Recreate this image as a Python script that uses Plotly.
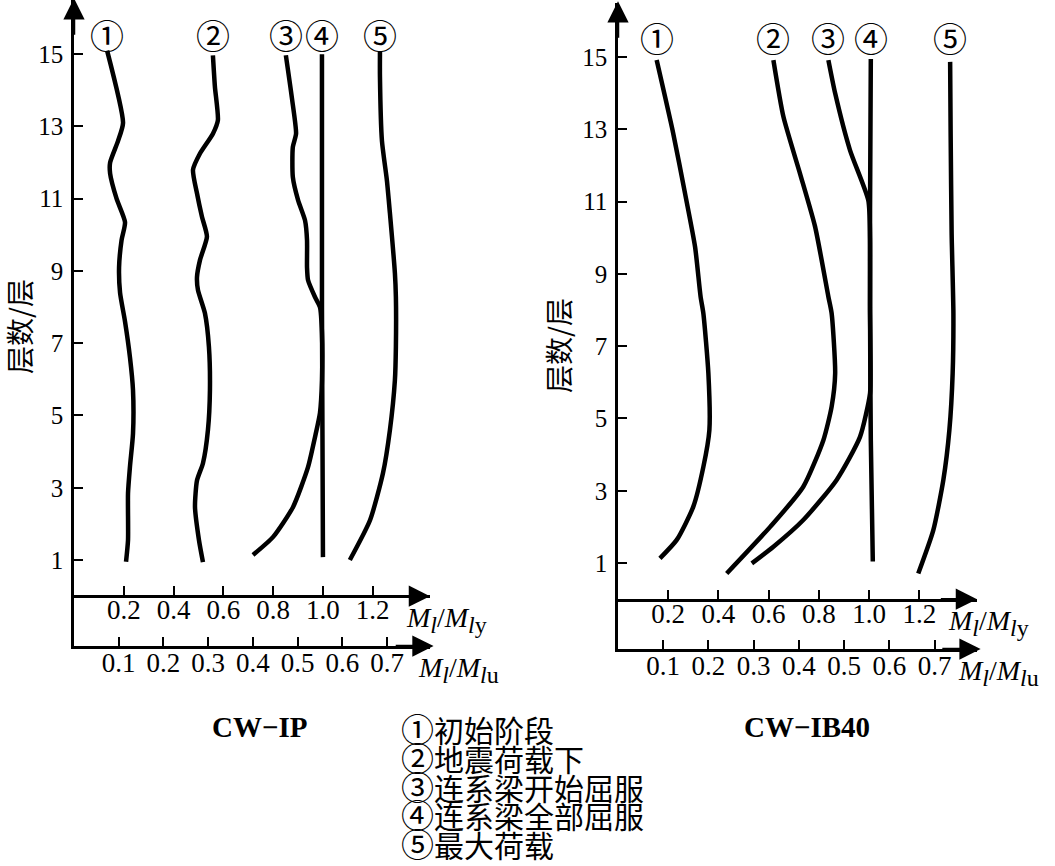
import plotly.graph_objects as go

W, H = 1055, 866

# ---------------- data ----------------
floor_ticks = [1, 3, 5, 7, 9, 11, 13, 15]
mly_ticks = [0.2, 0.4, 0.6, 0.8, 1.0, 1.2]
mlu_ticks = [0.1, 0.2, 0.3, 0.4, 0.5, 0.6, 0.7]
curve_labels = ["①", "②", "③", "④", "⑤"]
legend_texts = ["初始阶段", "地震荷载下", "连系梁开始屈服", "连系梁全部屈服", "最大荷载"]
panel_titles = ["CW−IP", "CW−IB40"]
y_title = "层数/层"

# CW-IP  (x = Ml/Mly, y = floor)
ip_c1_floor = [15.1, 13.1, 12.6, 12.0, 11.7, 11.0, 10.35, 9.85, 9.1, 8.4, 7.6, 6.6, 5.7, 4.5, 3.6, 2.85, 1.55, 0.95]
ip_c1_x = [0.133, 0.197, 0.177, 0.145, 0.145, 0.171, 0.205, 0.191, 0.181, 0.185, 0.205, 0.225, 0.237, 0.237, 0.225, 0.217, 0.217, 0.209]
ip_c2_floor = [14.97, 14.1, 13.17, 12.8, 12.25, 11.8, 11.15, 10.5, 9.95, 9.3, 8.83, 8.47, 7.83, 6.9, 5.7, 4.6, 3.68, 3.2, 2.47, 1.55, 0.94]
ip_c2_x = [0.558, 0.566, 0.578, 0.558, 0.506, 0.478, 0.494, 0.514, 0.534, 0.506, 0.494, 0.498, 0.526, 0.542, 0.546, 0.538, 0.518, 0.494, 0.486, 0.502, 0.518]
ip_c3_floor = [14.97, 13.8, 12.8, 12.43, 11.6, 10.96, 10.4, 9.85, 9.1, 8.75, 8.28, 8.0, 7.28, 5.98, 5.07, 4.4, 3.57, 2.47, 1.64, 1.14]
ip_c3_x = [0.851, 0.875, 0.892, 0.879, 0.879, 0.900, 0.928, 0.936, 0.936, 0.940, 0.968, 0.988, 0.996, 0.996, 0.988, 0.968, 0.940, 0.880, 0.800, 0.719]
ip_c4_floor = [15.0, 8.0, 1.08]
ip_c4_x = [0.996, 0.996, 1.0]
ip_c5_floor = [15.06, 14.37, 12.6, 11.5, 10.6, 8.94, 8.28, 6.9, 5.98, 4.6, 3.4, 2.1, 1.0]
ip_c5_x = [1.229, 1.229, 1.237, 1.257, 1.269, 1.289, 1.293, 1.293, 1.289, 1.269, 1.241, 1.189, 1.108]

# CW-IB40
ib_c1_floor = [14.92, 12.89, 11.23, 9.75, 8.37, 7.91, 6.25, 4.68, 3.66, 2.56, 1.64, 1.13]
ib_c1_x = [0.154, 0.220, 0.267, 0.307, 0.329, 0.340, 0.360, 0.364, 0.340, 0.300, 0.234, 0.167]
ib_c2_floor = [14.92, 13.35, 11.78, 10.31, 8.37, 7.91, 6.25, 5.33, 4.40, 3.11, 2.0, 0.71]
ib_c2_x = [0.619, 0.659, 0.725, 0.785, 0.838, 0.851, 0.865, 0.851, 0.818, 0.738, 0.606, 0.433]
ib_c3_floor = [14.92, 14.0, 12.43, 11.04, 10.0, 8.0, 6.5, 5.70, 4.49, 3.30, 2.19, 1.45, 0.99]
ib_c3_x = [0.838, 0.865, 0.924, 0.997, 1.004, 1.004, 1.006, 1.004, 0.964, 0.871, 0.738, 0.619, 0.533]
ib_c4_floor = [14.95, 10.8, 7.9, 4.4, 1.04]
ib_c4_x = [1.007, 1.004, 1.004, 1.007, 1.015]
ib_c5_floor = [14.87, 12.89, 10.12, 7.91, 6.25, 4.68, 3.30, 1.91, 0.71]
ib_c5_x = [1.323, 1.325, 1.329, 1.336, 1.333, 1.320, 1.296, 1.256, 1.196]

# ---------------- helpers ----------------
def px(x):
    return x / W

def py(y):
    return 1 - y / H

SERIF = "Liberation Serif"
CJK = "Noto Sans CJK SC"
BLACK = "black"

fig = go.Figure()

panels = [
    dict(curves=[(ip_c1_x, ip_c1_floor), (ip_c2_x, ip_c2_floor), (ip_c3_x, ip_c3_floor),
                 (ip_c4_x, ip_c4_floor), (ip_c5_x, ip_c5_floor)],
         xu="x", xy="x2", y="y"),
    dict(curves=[(ib_c1_x, ib_c1_floor), (ib_c2_x, ib_c2_floor), (ib_c3_x, ib_c3_floor),
                 (ib_c4_x, ib_c4_floor), (ib_c5_x, ib_c5_floor)],
         xu="x3", xy="x4", y="y2"),
]

for p in panels:
    for xs, fl in p["curves"]:
        fig.add_trace(go.Scatter(
            x=xs, y=fl, xaxis=p["xy"], yaxis=p["y"], mode="lines",
            line=dict(color=BLACK, width=4.5, shape="spline", smoothing=0.6),
            hoverinfo="skip", showlegend=False))

YR = [-1.38, 16.5]
MLY_R = 1.43
left_mlu_r = 0.796
right_mlu_r = 0.794

def xax(domain, rng, vals, anchor, position=None, overlaying=None, standoff=0):
    d = dict(domain=domain, range=rng, tickvals=vals, ticktext=[f"{v:.1f}" for v in vals],
             ticks="inside", ticklen=9, tickwidth=2, tickcolor=BLACK,
             showline=True, linewidth=2.5, linecolor=BLACK, showgrid=False, zeroline=False,
             tickfont=dict(family=SERIF, size=27, color=BLACK), ticklabelstandoff=standoff,
             fixedrange=True)
    if position is not None:
        d["anchor"] = "free"
        d["position"] = position
    else:
        d["anchor"] = anchor
    if overlaying:
        d["overlaying"] = overlaying
    return d

def yax(domain, anchor):
    return dict(domain=domain, range=YR, anchor=anchor, tickvals=floor_ticks,
                ticktext=[str(v) for v in floor_ticks],
                ticks="inside", ticklen=9, tickwidth=2, tickcolor=BLACK,
                showline=True, linewidth=2.5, linecolor=BLACK, showgrid=False, zeroline=False,
                tickfont=dict(family=SERIF, size=25, color=BLACK), ticklabelstandoff=3,
                fixedrange=True)

ld = [px(74), px(430)]
rd = [px(618), px(977)]

fig.update_layout(
    width=W, height=H,
    margin=dict(l=0, r=0, t=0, b=0),
    paper_bgcolor="white", plot_bgcolor="white",
    showlegend=False,
    xaxis=xax(ld, [0, left_mlu_r], mlu_ticks, "y", standoff=-9),
    xaxis2=xax(ld, [0, MLY_R], mly_ticks, None, position=py(596), overlaying="x", standoff=-11),
    yaxis=yax([py(646), py(0)], "x"),
    xaxis3=xax(rd, [0, right_mlu_r], mlu_ticks, "y2", standoff=-9),
    xaxis4=xax(rd, [0, MLY_R], mly_ticks, None, position=py(600), overlaying="x3", standoff=-11),
    yaxis2=yax([py(649), py(3)], "x3"),
)

ann = []

def arrow(xref, yref, x, y, ax, ay):
    ann.append(dict(xref=xref, yref=yref, axref=xref, ayref=yref, x=x, y=y, ax=ax, ay=ay,
                    text="", showarrow=True, arrowhead=2, arrowsize=1.7, arrowwidth=2.5,
                    arrowcolor=BLACK, standoff=0, startstandoff=0))

# axis arrows
for p, mlu_r in zip(panels, [left_mlu_r, right_mlu_r]):
    arrow(p["xy"], p["y"], 0, YR[1] + 0.05, 0, YR[1] - 1.0)
    arrow(p["xy"], p["y"], MLY_R, 0, MLY_R - 0.15, 0)
    arrow(p["xu"], p["y"], mlu_r + 0.008, YR[0], mlu_r - 0.08, YR[0])

# circled curve labels (above top of each curve)
for p in panels:
    for lab, (xs, fl) in zip(curve_labels, p["curves"]):
        ann.append(dict(xref=p["xy"], yref=p["y"], x=xs[0], y=15.55, text=lab, showarrow=False,
                        font=dict(family=CJK, size=34, color=BLACK), xanchor="center", yanchor="middle"))

# axis titles
sub_l_y = "<sub><span style='font-size:24px'><i>l</i>y</span></sub>"
sub_l_u = "<sub><span style='font-size:24px'><i>l</i>u</span></sub>"
sub_l = "<sub><span style='font-size:24px'><i>l</i></span></sub>"
mly_txt = "<i>M</i>" + sub_l + "/<i>M</i>" + sub_l_y
mlu_txt = "<i>M</i>" + sub_l + "/<i>M</i>" + sub_l_u
for x0, yu, x1, yl in [(404, 620, 416, 670), (946, 623, 956, 673)]:
    ann.append(dict(xref="paper", yref="paper", x=px(x0), y=py(yu), text=mly_txt, showarrow=False,
                    font=dict(family=SERIF, size=28, color=BLACK), xanchor="left", yanchor="middle"))
    ann.append(dict(xref="paper", yref="paper", x=px(x1), y=py(yl), text=mlu_txt, showarrow=False,
                    font=dict(family=SERIF, size=28, color=BLACK), xanchor="left", yanchor="middle"))

# y titles
for xc, yc in [(19, 327), (558, 346)]:
    ann.append(dict(xref="paper", yref="paper", x=px(xc), y=py(yc), text=y_title, textangle=-90,
                    showarrow=False, font=dict(family=CJK, size=28, color=BLACK),
                    xanchor="center", yanchor="middle"))

# panel titles
for t, xc in zip(panel_titles, [259, 807]):
    ann.append(dict(xref="paper", yref="paper", x=px(xc), y=py(727), text=f"<b>{t}</b>",
                    showarrow=False, font=dict(family=SERIF, size=29, color=BLACK),
                    xanchor="center", yanchor="middle"))

# legend lines
for i, (lab, t) in enumerate(zip(curve_labels, legend_texts)):
    ann.append(dict(xref="paper", yref="paper", x=px(399), y=py(728 + 28.8 * i),
                    text=f"<span style='font-size:33px'>{lab}</span>{t}",
                    showarrow=False, font=dict(family=CJK, size=30, color=BLACK),
                    xanchor="left", yanchor="middle"))

fig.update_layout(annotations=ann)
fig.write_html("out.html")
